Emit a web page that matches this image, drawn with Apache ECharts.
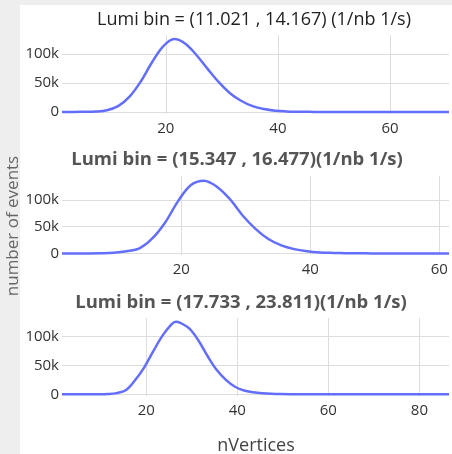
<!DOCTYPE html>
<html><head><meta charset="utf-8">
<script src="https://cdn.jsdelivr.net/npm/echarts@6/dist/echarts.min.js"></script>
<style>
html,body{margin:0;padding:0;background:#eeeeee;}
#bg{position:absolute;left:20px;top:5px;width:432px;height:449px;background:#ffffff;}
#c{position:absolute;left:0;top:0;width:452px;height:454px;}
</style></head>
<body><div id="bg"></div><div id="c"></div>
<script>
// Panel titles
const titles = [
  "Lumi bin = (11.021 , 14.167) (1/nb 1/s)",
  "Lumi bin = (15.347 , 16.477)(1/nb 1/s)",
  "Lumi bin = (17.733 , 23.811)(1/nb 1/s)"
];
const xLabel = "nVertices";
const yLabel = "number of events";

// Panel 1 data
const x1 = [1.5,3.5,5.5,7.5,9.5,11.5,13.5,15.5,17.5,19.5,21.5,23.5,25.5,27.5,29.5,31.5,33.5,35.5,37.5,39.5,41.5,43.5,45.5,47.5,49.5,53.5,57.5,63.5,70.5];
const y1 = [0,0,300,800,3000,10000,26000,52000,85000,113000,126000,118000,98000,74000,51000,32000,19000,10000,5000,2200,1000,500,250,100,0,0,0,0,0];
// Panel 2 data
const x2 = [1.5,3.5,5.5,7.5,9.5,11.5,13.5,15.5,17.5,19.5,21.5,23.5,25.5,27.5,29.5,31.5,33.5,35.5,37.5,39.5,41.5,43.5,45.5,47.5,49.5,53.5,57.5,61.5];
const y2 = [0,0,0,300,1200,4000,9500,28000,58000,98000,128000,136000,125000,102000,71000,46000,27000,15000,8000,4000,1800,900,400,200,0,0,0,0];
// Panel 3 data
const x3 = [1.5,3.5,5.5,7.5,9.5,11.5,13.5,15.5,17.5,19.5,21.5,23.5,25.5,26.5,27.5,29.5,31.5,33.5,35.5,37.5,39.5,41.5,43.5,45.5,47.5,49.5,53.5,60.5,70.5,80.5,86.5];
const y3 = [0,0,0,0,100,500,2000,7000,24000,46000,74000,101000,121000,126000,124000,114000,93000,66000,42000,25000,13000,6500,3500,1700,700,300,0,0,0,0,0];

const xMax = [70.5, 61.5, 86.5];
const yMin = [-3500, -3000, -3000];
const yMax = [133000, 145000, 132500];
const gridTop = [35, 176, 318];
const gridH = [79, 79, 78];

const xs = [x1, x2, x3], ys = [y1, y2, y3];
const FONT = "'Open Sans', 'Noto Sans', sans-serif";
const chart = echarts.init(document.getElementById('c'), null, {renderer:'canvas'});

const grids = [], xAxes = [], yAxes = [], series = [];
for (let i = 0; i < 3; i++) {
  grids.push({left: 62, right: 0, top: gridTop[i], height: gridH[i], containLabel: false});
  xAxes.push({
    type: 'value', gridIndex: i, min: 1.5, max: xMax[i], minInterval: 20, maxInterval: 20,
    axisLine: {show: false}, axisTick: {show: false},
    axisLabel: {color: '#333', fontSize: 15, fontFamily: FONT, margin: 7,
      formatter: v => (Math.abs(v % 20) < 1e-9 ? String(v) : '')},
    splitLine: {show: true, showMinLine: false, showMaxLine: false, lineStyle: {color: '#dddddd', width: 1}}
  });
  yAxes.push({
    type: 'value', gridIndex: i, min: yMin[i], max: yMax[i], minInterval: 50000, maxInterval: 50000,
    axisLine: {show: false}, axisTick: {show: false},
    axisLabel: {color: '#333', fontSize: 15, fontFamily: FONT, margin: 3,
      formatter: v => (v === 0 ? '0' : (Math.abs(v % 50000) < 1e-9 ? (v / 1000) + 'k' : ''))},
    splitLine: {show: true, showMinLine: false, showMaxLine: false, lineStyle: {color: '#dddddd', width: 1}}
  });
  series.push({
    type: 'line', xAxisIndex: i, yAxisIndex: i, smooth: 0.35, showSymbol: false, symbol: 'none',
    lineStyle: {color: '#636efa', width: 2.5}, itemStyle: {color: '#636efa'},
    data: xs[i].map((x, k) => [x, ys[i][k]]), animation: false, z: 5
  });
}

const titleY = [20, 160, 303];
const titleX = [254, 237, 241];
const graphics = [];
for (let i = 0; i < 3; i++) {
  graphics.push({type: 'text', x: titleX[i], y: titleY[i], silent: true,
    style: {text: titles[i], fill: i === 0 ? '#222' : '#555', fontSize: i === 0 ? 18 : 18.5, fontWeight: i === 0 ? 'normal' : 'bold',
      fontFamily: FONT, textAlign: 'center', textVerticalAlign: 'middle'}});
}
graphics.push({type: 'text', x: 256, y: 446, silent: true,
  style: {text: xLabel, fill: '#444', fontSize: 18, fontFamily: FONT, textAlign: 'center', textVerticalAlign: 'middle'}});
graphics.push({type: 'text', x: 13, y: 226, rotation: Math.PI / 2, silent: true,
  style: {text: yLabel, fill: '#666', fontSize: 17, fontFamily: FONT, textAlign: 'center', textVerticalAlign: 'middle'}});

chart.setOption({
  animation: false,
  grid: grids, xAxis: xAxes, yAxis: yAxes, series: series, graphic: graphics
});
</script></body></html>
